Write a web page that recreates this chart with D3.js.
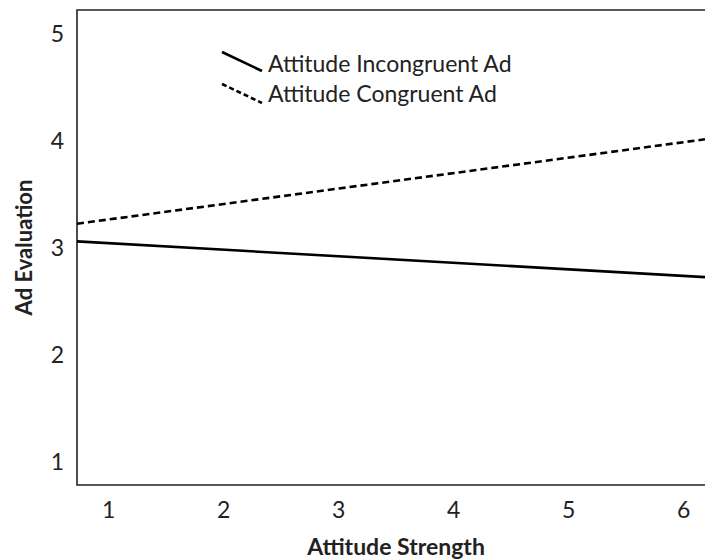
<!DOCTYPE html>
<html><head><meta charset="utf-8">
<script src="https://cdn.jsdelivr.net/npm/d3@7"></script>
<style>body{margin:0;background:#fff;} svg{display:block;} text{font-family:Lato,"Open Sans",sans-serif;fill:#222;}</style>
</head><body><svg id="c" width="705" height="560"></svg>
<script>
const xTicks = [1, 2, 3, 4, 5, 6];
const yTicks = [1, 2, 3, 4, 5];
const xDomain = [0.73, 6.19];
const yDomain = [0.785, 5.23];
const seriesNames = ["Attitude Incongruent Ad", "Attitude Congruent Ad"];
const seriesX = [0.73, 6.19];
const incongruent = [3.065, 2.73];
const congruent = [3.23, 4.02];
const xTitle = "Attitude Strength";
const yTitle = "Ad Evaluation";

const svg = d3.select("#c");
const L = 77, R = 705, T = 10, B = 485;
const x = d3.scaleLinear().domain(xDomain).range([L, R]);
const y = d3.scaleLinear().domain(yDomain).range([B, T]);

// frame
svg.append("path").attr("d", `M${R+2},${T}H${L}V${B}H${R+2}`)
  .attr("fill", "none").attr("stroke", "#222").attr("stroke-width", 1.6);

const xa = svg.append("g").attr("transform", `translate(0,${B})`)
  .call(d3.axisBottom(x).tickValues(xTicks).tickSize(0).tickPadding(17).tickFormat(d3.format("d")));
xa.select(".domain").remove();
xa.selectAll("text").attr("font-size", 23).attr("font-family", "Lato").attr("fill", "#222");

const ya = svg.append("g").attr("transform", `translate(${L},0)`)
  .call(d3.axisLeft(y).tickValues(yTicks).tickSize(0).tickPadding(13).tickFormat(d3.format("d")));
ya.select(".domain").remove();
ya.selectAll("text").attr("font-size", 23).attr("font-family", "Lato").attr("fill", "#222");

const line = d3.line().x(d => x(d[0])).y(d => y(d[1]));
const series = [
  {name: seriesNames[0], vals: incongruent, dash: null},
  {name: seriesNames[1], vals: congruent, dash: "7,4"}
];
series.forEach(s => {
  svg.append("path").attr("d", line(seriesX.map((xv, i) => [xv, s.vals[i]])))
    .attr("fill", "none").attr("stroke", "#000").attr("stroke-width", 2.6)
    .attr("stroke-dasharray", s.dash);
});

// legend
series.forEach((s, i) => {
  const oy = i * 32;
  svg.append("line").attr("x1", 222).attr("y1", 52 + oy).attr("x2", 262).attr("y2", 71 + oy)
    .attr("stroke", "#000").attr("stroke-width", 2.6).attr("stroke-dasharray", s.dash ? "5,3" : null);
  svg.append("text").attr("x", 268).attr("y", 72 + i * 30).attr("font-size", 23).text(s.name);
});

svg.append("text").attr("x", 396).attr("y", 555).attr("text-anchor", "middle")
  .attr("font-size", 23).attr("font-weight", "bold").text(xTitle);
svg.append("text").attr("transform", `translate(32,${(T + B) / 2}) rotate(-90)`).attr("text-anchor", "middle")
  .attr("font-size", 22).attr("font-weight", "bold").attr("font-family", "'Liberation Sans',Arial,sans-serif").text(yTitle);
</script></body></html>
